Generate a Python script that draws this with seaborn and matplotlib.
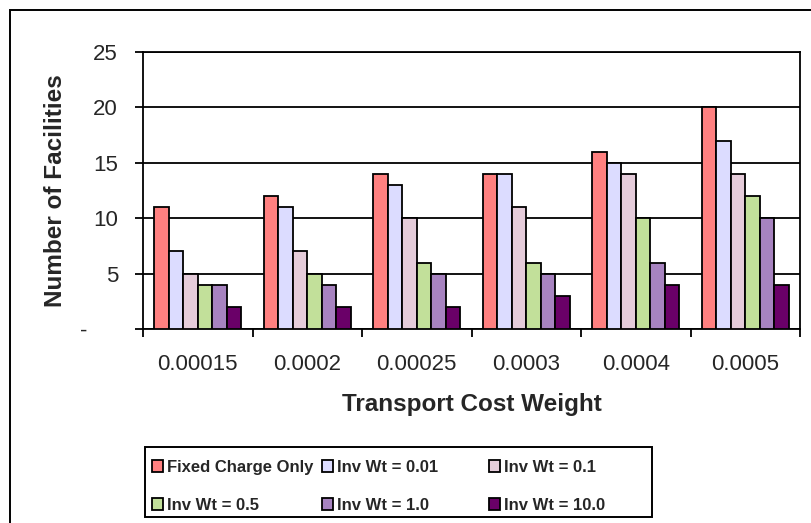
import matplotlib
matplotlib.use("Agg")
import matplotlib.pyplot as plt
import matplotlib.patches as mpatches
import seaborn as sns
import pandas as pd

# Transport cost weights (x categories)
weights = ["0.00015", "0.0002", "0.00025", "0.0003", "0.0004", "0.0005"]

# Number of facilities per inventory-weight setting
fixed_charge_only = [11, 12, 14, 14, 16, 20]
inv_wt_001 = [7, 11, 13, 14, 15, 17]
inv_wt_01 = [5, 7, 10, 11, 14, 14]
inv_wt_05 = [4, 5, 6, 6, 10, 12]
inv_wt_10 = [4, 4, 5, 5, 6, 10]
inv_wt_100 = [2, 2, 2, 3, 4, 4]

series_names = ["Fixed Charge Only", "Inv Wt = 0.01", "Inv Wt = 0.1",
                "Inv Wt = 0.5", "Inv Wt = 1.0", "Inv Wt = 10.0"]
series_values = [fixed_charge_only, inv_wt_001, inv_wt_01,
                 inv_wt_05, inv_wt_10, inv_wt_100]
colors = ["#FF8080", "#DCDCFF", "#E5CCDA", "#C2E09A", "#A783C0", "#6A0068"]

y_ticks = [0, 5, 10, 15, 20, 25]
y_tick_labels = ["-     ", "5", "10", "15", "20", "25"]

rows = []
for name, vals in zip(series_names, series_values):
    for w, v in zip(weights, vals):
        rows.append({"weight": w, "facilities": v, "series": name})
df = pd.DataFrame(rows)

sns.set_style("white")
plt.rcParams["font.family"] = ["Liberation Sans", "DejaVu Sans"]

W, H = 811, 523
fig = plt.figure(figsize=(W / 100, H / 100), dpi=100)
ax = fig.add_axes([143 / W, 1 - 329 / H, (800 - 143) / W, (329 - 52) / H])

sns.barplot(data=df, x="weight", y="facilities", hue="series",
            order=weights, hue_order=series_names, palette=colors,
            width=0.79, edgecolor="black", linewidth=1.3, saturation=1,
            legend=False, ax=ax, zorder=3)

ax.set_ylim(0, 25)
ax.set_xlim(-0.5, len(weights) - 0.5)
ax.set_yticks(y_ticks)
ax.set_yticklabels(y_tick_labels)
ax.yaxis.grid(True, color="black", linewidth=1.3)
ax.set_axisbelow(True)

for s in ax.spines.values():
    s.set_color("black")
    s.set_linewidth(1.3)
    s.set_visible(True)

ax.tick_params(axis="y", direction="out", length=6, width=1.3,
               color="black", labelsize=16, pad=12, left=True)
ax.set_xticks(range(len(weights)))
ax.set_xticklabels(weights)
ax.set_xticks([i - 0.5 for i in range(len(weights) + 1)], minor=True)
ax.tick_params(axis="x", which="major", length=0, labelsize=16, pad=18)
ax.tick_params(axis="x", which="minor", direction="out", length=6,
               width=1.3, color="black", bottom=True)

ax.set_xlabel("Transport Cost Weight", fontsize=17.5, fontweight="bold",
              labelpad=13)
ax.set_ylabel("Number of Facilities", fontsize=17.5, fontweight="bold",
              labelpad=9)

# Outer chart frame
fig.patches.append(mpatches.Rectangle(
    (10 / W, -0.1), 1.2, 1 - 10 / H + 0.1, transform=fig.transFigure,
    fill=False, edgecolor="black", linewidth=1.4))

# Legend box with three equal columns
fig.patches.append(mpatches.Rectangle(
    (145 / W, 1 - 517 / H), (652 - 145) / W, (517 - 447) / H,
    transform=fig.transFigure, fill=False, edgecolor="black",
    linewidth=1.4))

handles = [mpatches.Patch(facecolor=c, edgecolor="black", linewidth=1.3)
           for c in colors]
col_x = [152, 322, 489]
leg_font = {"family": ["Liberation Sans", "DejaVu Sans"],
            "weight": "bold", "size": 12}
for k, x0 in enumerate(col_x):
    idx = [k, k + 3]
    fig.legend([handles[i] for i in idx],
               [series_names[i] for i in idx],
               loc="upper left",
               bbox_to_anchor=(x0 / W, 1 - 460 / H),
               bbox_transform=fig.transFigure,
               frameon=False, borderpad=0, borderaxespad=0,
               handlelength=0.66, handleheight=0.72,
               handletextpad=0.24, labelspacing=1.35,
               prop=leg_font)

fig.savefig("out.png", dpi=100, facecolor="white")
